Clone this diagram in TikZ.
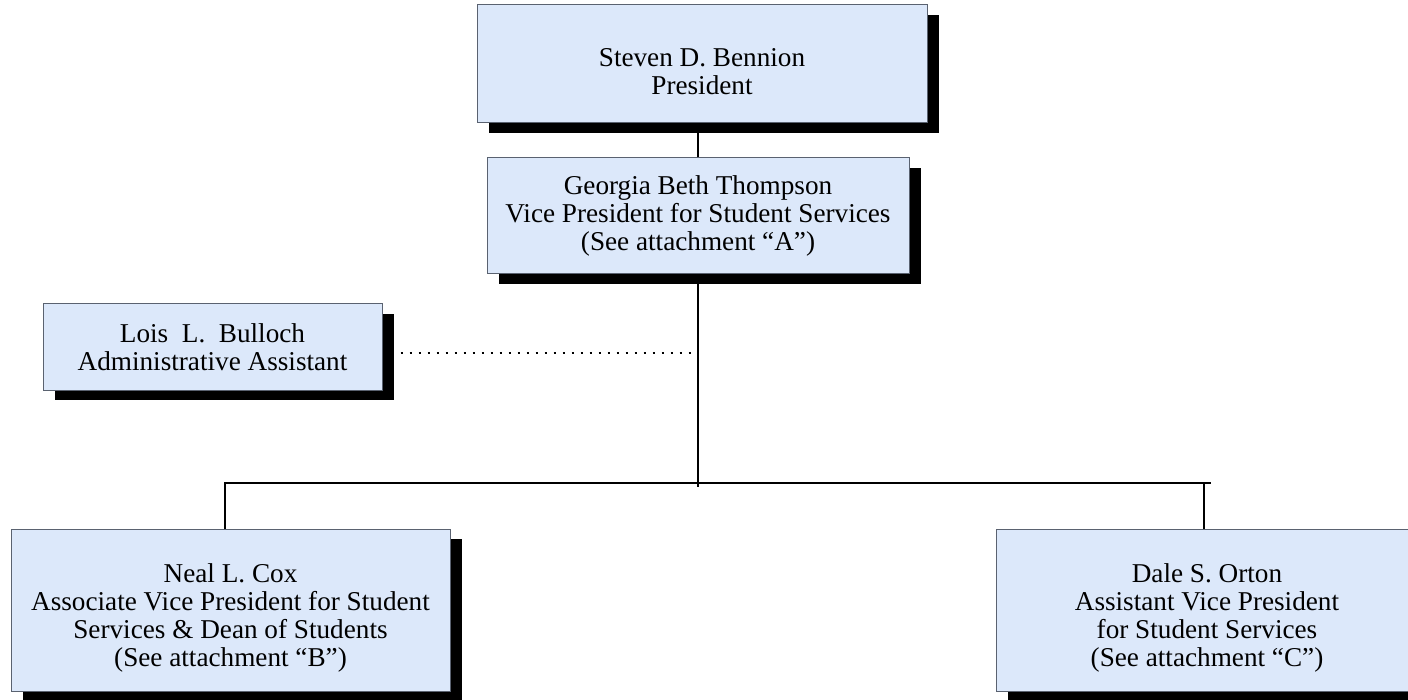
\documentclass[tikz,border=0pt]{standalone}
\usepackage{fontspec}
\setmainfont{Liberation Serif}
\usepackage{tikz}
\usetikzlibrary{shadows}
\definecolor{boxfill}{RGB}{220,232,250}
\definecolor{boxline}{RGB}{90,98,112}
\newcommand{\toppad}{\rule{0pt}{17pt}}
\tikzset{
  orgbox/.style={ draw=boxline, fill=boxfill, line width=0.5pt, align=center, inner sep=2pt,
    general shadow={fill=black, shadow xshift=6pt, shadow yshift=-5pt},
    font=\fontsize{13.6}{14}\selectfont }
}
\tikzset{
  link/.style={ draw=black, line width=0.6pt }
}

\begin{document}
\begin{tikzpicture}[x=0.5pt, y=-0.5pt]

      \useasboundingbox (0, 0) rectangle (1408, 700);

      \node[orgbox, minimum width=225pt, minimum height=59pt] (pres) at (702, 64)
        {\toppad Steven D. Bennion\\President};
      \node[orgbox, minimum width=211pt, minimum height=58pt] (vp) at (698, 216)
        {Georgia Beth Thompson\\Vice President for Student Services\\(See attachment “A”)};
      \node[orgbox, minimum width=169.5pt, minimum height=43pt] (lois) at (212.5, 347)
        {Lois\ \ L.\ \ Bulloch\\Administrative Assistant};
      \node[orgbox, minimum width=219.5pt, minimum height=81pt] (neal) at (230.5, 610)
        {\toppad Neal L. Cox\\Associate Vice President for Student\\Services \& Dean of Students\\(See attachment “B”)};
      \node[orgbox, minimum width=211pt, minimum height=81pt] (dale) at (1207, 610)
        {\toppad Dale S. Orton\\Assistant Vice President\\for Student Services\\(See attachment “C”)};

      \coordinate (hub) at (698, 483);

      \draw[link] (vp.north) -- (vp.north |- pres.south);
      \draw[link] (vp.south) -- ([yshift=-2pt]hub);
      \draw[link] ([xshift=-2.75pt]neal.north) |- ([xshift=2pt]dale.north |- hub);
      \draw[link] ([xshift=-1.5pt]dale.north) -- ([xshift=-1.5pt]dale.north |- hub);
      \draw[line width=1pt, dash pattern=on 1pt off 3.5pt]
        ([xshift=9pt, yshift=-3pt]lois.east) -- ([yshift=-3pt]lois.east -| hub);

\end{tikzpicture}
\end{document}
